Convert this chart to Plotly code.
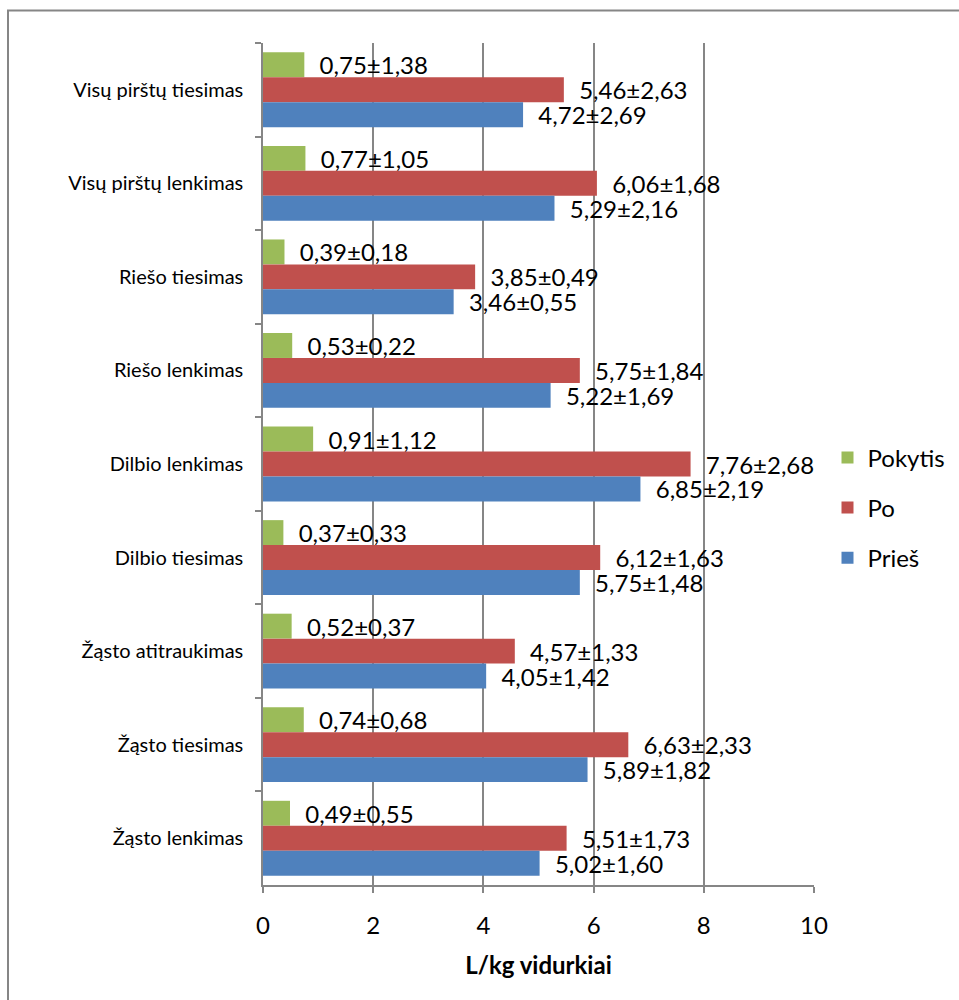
import plotly.graph_objects as go

# Movements, listed from top to bottom of the chart
categories = [
    "Visų pirštų tiesimas",
    "Visų pirštų lenkimas",
    "Riešo tiesimas",
    "Riešo lenkimas",
    "Dilbio lenkimas",
    "Dilbio tiesimas",
    "Žąsto atitraukimas",
    "Žąsto tiesimas",
    "Žąsto lenkimas",
]

# Mean values (L/kg) and standard deviations
pokytis_mean = [0.75, 0.77, 0.39, 0.53, 0.91, 0.37, 0.52, 0.74, 0.49]
pokytis_sd = [1.38, 1.05, 0.18, 0.22, 1.12, 0.33, 0.37, 0.68, 0.55]
po_mean = [5.46, 6.06, 3.85, 5.75, 7.76, 6.12, 4.57, 6.63, 5.51]
po_sd = [2.63, 1.68, 0.49, 1.84, 2.68, 1.63, 1.33, 2.33, 1.73]
pries_mean = [4.72, 5.29, 3.46, 5.22, 6.85, 5.75, 4.05, 5.89, 5.02]
pries_sd = [2.69, 2.16, 0.55, 1.69, 2.19, 1.48, 1.42, 1.82, 1.60]

x_ticks = [0, 2, 4, 6, 8, 10]

FONT = "Lato, Carlito, Calibri, sans-serif"
GRID = "#868686"


def fmt(v):
    return f"{v:.2f}".replace(".", ",")


def labels(means, sds):
    # leading no-break spaces push the label a little away from the bar end
    return ["\u00a0\u00a0" + fmt(m) + "±" + fmt(s) for m, s in zip(means, sds)]


series = [
    ("Pokytis", pokytis_mean, pokytis_sd, "#9BBB59"),
    ("Po", po_mean, po_sd, "#C0504D"),
    ("Prieš", pries_mean, pries_sd, "#4F81BD"),
]

fig = go.Figure()
for name, means, sds, color in series:
    fig.add_trace(
        go.Bar(
            y=categories,
            x=means,
            name=name,
            orientation="h",
            marker=dict(color=color, line=dict(width=0)),
            text=labels(means, sds),
            textposition="outside",
            constraintext="none",
            cliponaxis=False,
            textfont=dict(family=FONT, size=24, color="#000000"),
            legendgroup=name,
        )
    )

fig.update_layout(
    width=959,
    height=1000,
    margin=dict(l=263, r=145, t=43, b=115, autoexpand=False),
    paper_bgcolor="white",
    plot_bgcolor="white",
    barmode="group",
    bargap=0.2,
    bargroupgap=0,
    font=dict(family=FONT, color="#000000"),
    legend=dict(
        x=1.0245,
        y=0.448,
        xanchor="left",
        yanchor="middle",
        traceorder="grouped",
        tracegroupgap=16,
        font=dict(family=FONT, size=24, color="#000000"),
        bgcolor="rgba(0,0,0,0)",
    ),
    xaxis=dict(
        range=[0, 10],
        tickvals=x_ticks,
        ticktext=[str(t) for t in x_ticks],
        showgrid=True,
        gridcolor=GRID,
        gridwidth=1.5,
        zeroline=False,
        showline=True,
        linecolor=GRID,
        linewidth=1.5,
        ticks="outside",
        ticklen=6,
        tickcolor=GRID,
        tickwidth=1.5,
        tickfont=dict(family=FONT, size=24, color="#000000"),
        ticklabelstandoff=12,
        title=dict(
            text="<b>L/kg vidurkiai</b>",
            font=dict(family=FONT, size=24, color="#000000"),
            standoff=20,
        ),
    ),
    yaxis=dict(
        autorange="reversed",
        showgrid=False,
        zeroline=False,
        showline=True,
        linecolor=GRID,
        linewidth=1.5,
        ticks="outside",
        tickson="boundaries",
        ticklen=6,
        tickcolor=GRID,
        tickwidth=1.5,
        tickfont=dict(family=FONT, size=20, color="#000000"),
        ticklabelstandoff=14,
    ),
    shapes=[
        dict(
            type="rect",
            xref="paper",
            yref="paper",
            x0=-0.4628,
            x1=1.5,
            y0=-0.3,
            y1=1.0386,
            line=dict(color=GRID, width=2),
            fillcolor="rgba(0,0,0,0)",
            layer="below",
        )
    ],
)

fig.write_html("out.html")
